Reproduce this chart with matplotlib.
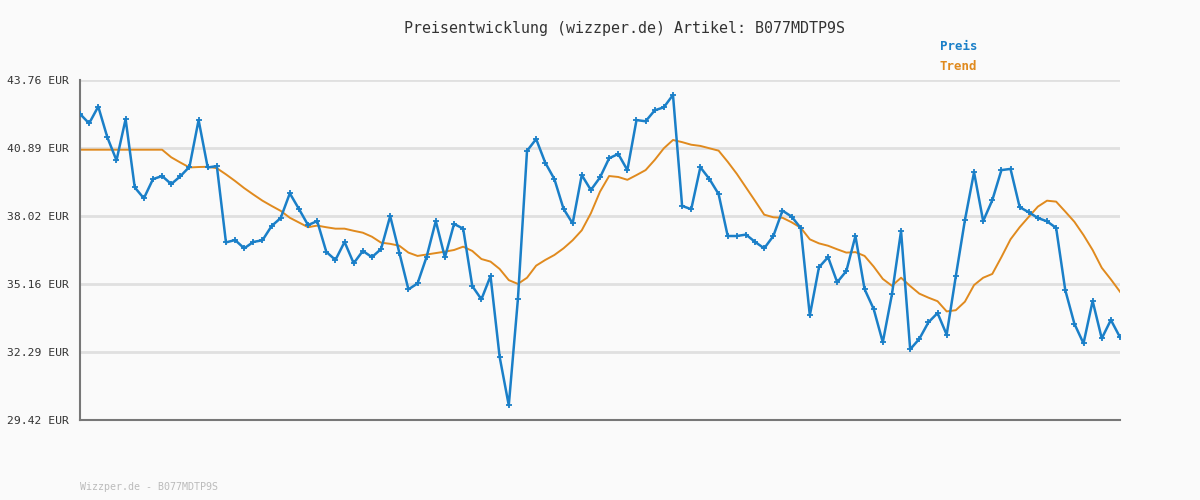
import matplotlib
matplotlib.use("Agg")
import matplotlib.pyplot as plt

preis = [42.33,41.93,42.64,41.34,40.37,42.11,39.23,38.77,39.58,39.71,39.37,39.70,40.10,42.07,40.07,40.13,
         36.91,37.01,36.66,36.93,37.00,37.60,37.94,38.98,38.32,37.64,37.81,36.51,36.17,36.93,36.03,36.55,
         36.29,36.63,38.02,36.48,34.93,35.18,36.31,37.81,36.28,37.69,37.49,35.07,34.51,35.49,32.08,30.04,
         34.51,40.77,41.27,40.27,39.58,38.33,37.71,39.75,39.12,39.65,40.46,40.64,39.96,42.07,42.02,42.48,
         42.61,43.13,38.45,38.31,40.08,39.58,38.95,37.18,37.18,37.24,36.93,36.66,37.18,38.25,38.00,37.52,
         33.83,35.86,36.29,35.23,35.70,37.18,34.94,34.10,32.70,34.72,37.39,32.40,32.84,33.54,33.93,33.02,
         35.48,37.85,39.87,37.81,38.69,39.96,40.01,38.40,38.18,37.94,37.80,37.52,34.90,33.48,32.65,34.44,
         32.86,33.64,32.91]
trend = [40.82]*10 + [40.50,40.28,40.07,40.09,40.10,40.04,39.78,39.50,39.20,38.93,38.67,38.45,38.24,37.95,
         37.75,37.55,37.62,37.55,37.49,37.49,37.40,37.32,37.15,36.90,36.85,36.77,36.48,36.34,
         36.40,36.46,36.52,36.59,36.73,36.55,36.21,36.10,35.79,35.32,35.16,35.42,35.93,36.17,36.38,36.66,
         37.00,37.42,38.14,39.05,39.71,39.67,39.55,39.75,39.96,40.39,40.88,41.23,41.14,41.03,40.98,40.88,
         40.78,40.31,39.80,39.23,38.66,38.08,37.97,37.95,37.76,37.53,37.04,36.87,36.77,36.62,36.48,36.50,
         36.34,35.89,35.37,35.08,35.42,35.07,34.75,34.58,34.43,34.00,34.05,34.41,35.11,35.42,35.58,36.29,
         37.04,37.55,37.99,38.42,38.67,38.63,38.21,37.78,37.22,36.59,35.84,35.35,34.83]
yticks = [29.42, 32.29, 35.16, 38.02, 40.89, 43.76]
title = "Preisentwicklung (wizzper.de) Artikel: B077MDTP9S"

plt.rcParams['font.family'] = ['DejaVu Sans Mono']
fig = plt.figure(figsize=(12, 5), dpi=100, facecolor='#fafafa')
ax = fig.add_axes([80/1200, 80/500, 1040/1200, 340/500])
ax.set_facecolor('#fafafa')
x = list(range(len(preis)))
ax.plot(x, trend, color='#e08a1e', lw=1.4, zorder=2)
ax.plot(x, preis, color='#1a7fc8', lw=1.8, marker='+', ms=4, mew=1.3, zorder=3)
ax.set_xlim(0, len(preis)-1)
ax.set_ylim(yticks[0], yticks[-1])
ax.set_yticks(yticks)
ax.set_yticklabels([f"{v:.2f} EUR" for v in yticks], fontsize=8.2, color='#333333')
ax.set_xticks([])
ax.grid(axis='y', color='#e0e0e0', lw=2)
ax.set_axisbelow(True)
for s in ['top', 'right']:
    ax.spines[s].set_visible(False)
for s in ['left', 'bottom']:
    ax.spines[s].set_color('#777777')
    ax.spines[s].set_linewidth(1.5)
ax.tick_params(axis='y', length=0, pad=8)
fig.text(624/1200, 1-28/500, title, ha='center', va='center', fontsize=10.8, color='#333333')
fig.text(940/1200, 1-47/500, "Preis", ha='left', va='center', fontsize=9, color='#1a7fc8', fontweight='bold')
fig.text(940/1200, 1-67/500, "Trend", ha='left', va='center', fontsize=9, color='#e08a1e', fontweight='bold')
fig.text(80/1200, 1-487/500, "Wizzper.de - B077MDTP9S", ha='left', va='center', fontsize=7.2, color='#bbbbbb')
fig.savefig("out.png", dpi=100, facecolor=fig.get_facecolor())
